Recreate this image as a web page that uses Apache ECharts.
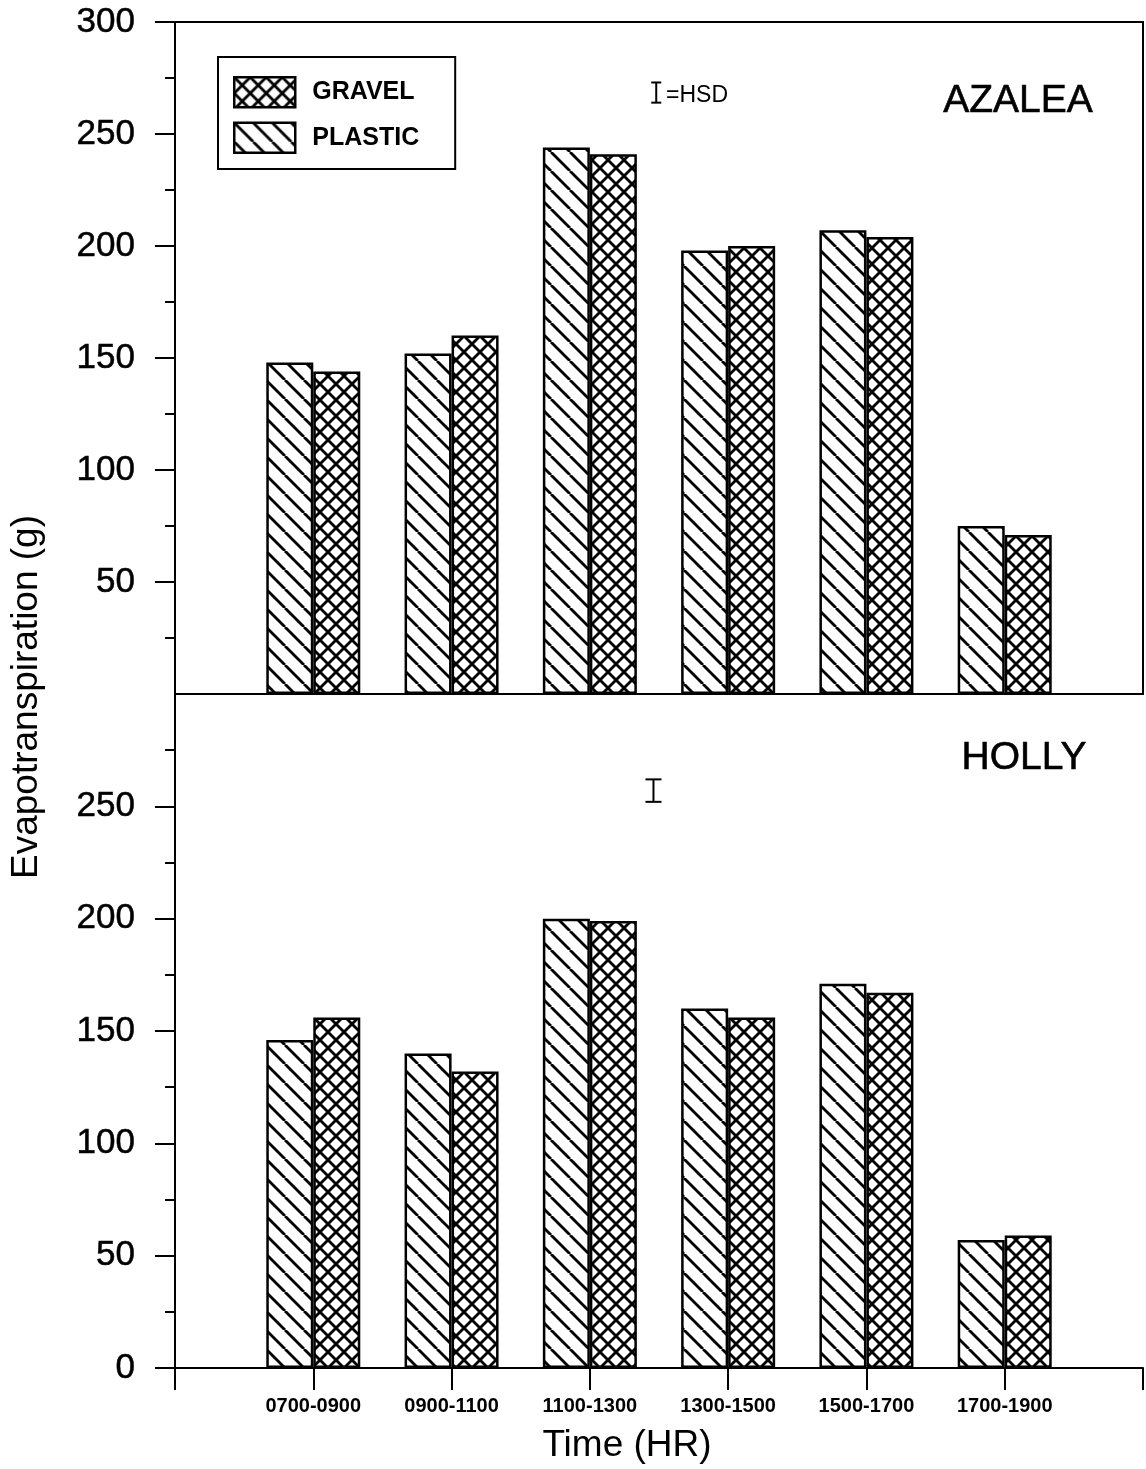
<!DOCTYPE html>
<html>
<head>
<meta charset="utf-8">
<script src="https://cdn.jsdelivr.net/npm/echarts@6/dist/echarts.min.js"></script>
<style>
html,body{margin:0;padding:0;background:#fff;}
#chart{width:1146px;height:1469px;}
</style>
</head>
<body>
<div id="chart"></div>
<script>
const categories = ['0700-0900','0900-1100','1100-1300','1300-1500','1500-1700','1700-1900'];
const azaleaPlastic = [148, 152, 244, 198, 207, 75];
const azaleaGravel  = [144, 160, 241, 200, 204, 71];
const hollyPlastic  = [146, 140, 200, 160, 171, 57];
const hollyGravel   = [156, 132, 199, 156, 167, 59];
const topTicks = [50, 100, 150, 200, 250, 300];
const bottomTicks = [0, 50, 100, 150, 200, 250];
// HSD bar: [x position, low, high]
const hsdAzalea = [3.48, 264, 273];
const hsdHolly  = [3.46, 252, 262];

const FONT = '"Liberation Sans", Arial, Helvetica, sans-serif';

function hatchPattern(){
  const c = document.createElement('canvas');
  const s = 19;
  c.width = s; c.height = s;
  const g = c.getContext('2d');
  g.fillStyle = '#fff'; g.fillRect(0,0,s,s);
  g.strokeStyle = '#000'; g.lineWidth = 2.8;
  for (const x0 of [-s, 0, s]) {
    g.beginPath(); g.moveTo(x0, 0); g.lineTo(x0 + s, s); g.stroke();
  }
  return {image: c, repeat: 'repeat'};
}
function crossPattern(){
  const c = document.createElement('canvas');
  const s = 16;
  c.width = s; c.height = s;
  const g = c.getContext('2d');
  g.fillStyle = '#fff'; g.fillRect(0,0,s,s);
  g.strokeStyle = '#000'; g.lineWidth = 2.8;
  for (const x0 of [-s, 0, s]) {
    g.beginPath(); g.moveTo(x0, 0); g.lineTo(x0 + s, s); g.stroke();
    g.beginPath(); g.moveTo(x0, s); g.lineTo(x0 + s, 0); g.stroke();
  }
  return {image: c, repeat: 'repeat'};
}
const hatch = hatchPattern();
const cross = crossPattern();

const toPairs = arr => arr.map((v, i) => [i + 1, v]);

function barSeries(name, data, gi, pattern){
  return {
    name: name, type: 'bar', xAxisIndex: gi, yAxisIndex: gi,
    data: toPairs(data), barWidth: 47, barGap: '0%',
    itemStyle: {color: pattern, borderColor: '#000', borderWidth: 2.5},
    emphasis: {disabled: true}, animation: false
  };
}
function hsdSeries(d, gi, cap){
  return {
    type: 'custom', xAxisIndex: gi, yAxisIndex: gi, silent: true, animation: false,
    data: [d],
    renderItem: function(params, api){
      const lo = api.coord([api.value(0), api.value(1)]);
      const hi = api.coord([api.value(0), api.value(2)]);
      const st = {stroke: '#000', lineWidth: 2};
      return {type: 'group', children: [
        {type: 'line', shape: {x1: lo[0], y1: lo[1], x2: hi[0], y2: hi[1]}, style: st},
        {type: 'line', shape: {x1: lo[0]-cap, y1: lo[1], x2: lo[0]+cap, y2: lo[1]}, style: st},
        {type: 'line', shape: {x1: hi[0]-cap, y1: hi[1], x2: hi[0]+cap, y2: hi[1]}, style: st}
      ]};
    }
  };
}

const axisLineStyle = {color: '#000', width: 2};
function yAxisDef(gi, ticks){
  return {
    type: 'value', gridIndex: gi, min: 0, max: 300, interval: 50,
    axisLine: {show: true, lineStyle: axisLineStyle},
    axisTick: {show: true, length: 20, lineStyle: axisLineStyle, customValues: ticks},
    minorTick: {show: true, splitNumber: 2, length: 10, lineStyle: {color: '#000', width: 2}},
    axisLabel: {fontSize: 35, color: '#000', fontFamily: FONT, margin: 40, customValues: ticks,
      textBorderColor: '#000', textBorderWidth: 0.5},
    splitLine: {show: false}, minorSplitLine: {show: false}
  };
}

const chart = echarts.init(document.getElementById('chart'), null, {renderer: 'canvas'});
chart.setOption({
  backgroundColor: '#fff',
  animation: false,
  grid: [
    {left: 175, top: 22, width: 968, height: 672, show: true, borderColor: '#000', borderWidth: 2, backgroundColor: 'transparent'},
    {left: 175, top: 694, width: 968, height: 674}
  ],
  legend: {
    data: ['GRAVEL', 'PLASTIC'], orient: 'vertical', left: 218, top: 57,
    itemWidth: 61, itemHeight: 30, itemGap: 13, icon: 'rect',
    padding: [19, 36, 15, 15], borderColor: '#000', borderWidth: 2,
    selectedMode: false,
    itemStyle: {borderColor: '#000', borderWidth: 2.5},
    textStyle: {fontSize: 25, fontWeight: 'bold', color: '#000', fontFamily: FONT, padding: [0, 0, 0, 12]}
  },
  xAxis: [
    {type: 'value', gridIndex: 0, min: 0, max: 7, interval: 1,
     axisLine: {show: true, lineStyle: axisLineStyle}, axisTick: {show: false},
     axisLabel: {show: false}, splitLine: {show: false}},
    {type: 'value', gridIndex: 1, min: 0, max: 7, interval: 1,
     axisLine: {show: true, lineStyle: axisLineStyle},
     axisTick: {show: true, length: 22, lineStyle: axisLineStyle},
     axisLabel: {fontSize: 20, fontWeight: 'bold', color: '#000', fontFamily: FONT, margin: 28,
       formatter: v => categories[v - 1] || ''},
     splitLine: {show: false}}
  ],
  yAxis: [yAxisDef(0, topTicks), yAxisDef(1, bottomTicks)],
  series: [
    barSeries('PLASTIC', azaleaPlastic, 0, hatch),
    barSeries('GRAVEL', azaleaGravel, 0, cross),
    barSeries('PLASTIC', hollyPlastic, 1, hatch),
    barSeries('GRAVEL', hollyGravel, 1, cross),
    hsdSeries(hsdAzalea, 0, 5),
    hsdSeries(hsdHolly, 1, 8)
  ],
  graphic: [
    {type: 'text', left: 666, top: 84, style: {text: '=HSD', font: '23px ' + FONT, fill: '#000'}},
    {type: 'text', style: {text: 'AZALEA', font: '39px ' + FONT, fill: '#000', textAlign: 'center', textVerticalAlign: 'middle', stroke: '#000', lineWidth: 0.6}, x: 1018, y: 101},
    {type: 'text', style: {text: 'HOLLY', font: '39px ' + FONT, fill: '#000', textAlign: 'center', textVerticalAlign: 'middle', stroke: '#000', lineWidth: 0.6}, x: 1024, y: 758},
    {type: 'text', style: {text: 'Evapotranspiration (g)', font: '37px ' + FONT, fill: '#000', textAlign: 'center', textVerticalAlign: 'middle'}, x: 27, y: 697, rotation: Math.PI / 2},
    {type: 'text', style: {text: 'Time (HR)', font: '37px ' + FONT, fill: '#000', textAlign: 'center', textVerticalAlign: 'middle'}, x: 627, y: 1446}
  ]
});
</script>
</body>
</html>
